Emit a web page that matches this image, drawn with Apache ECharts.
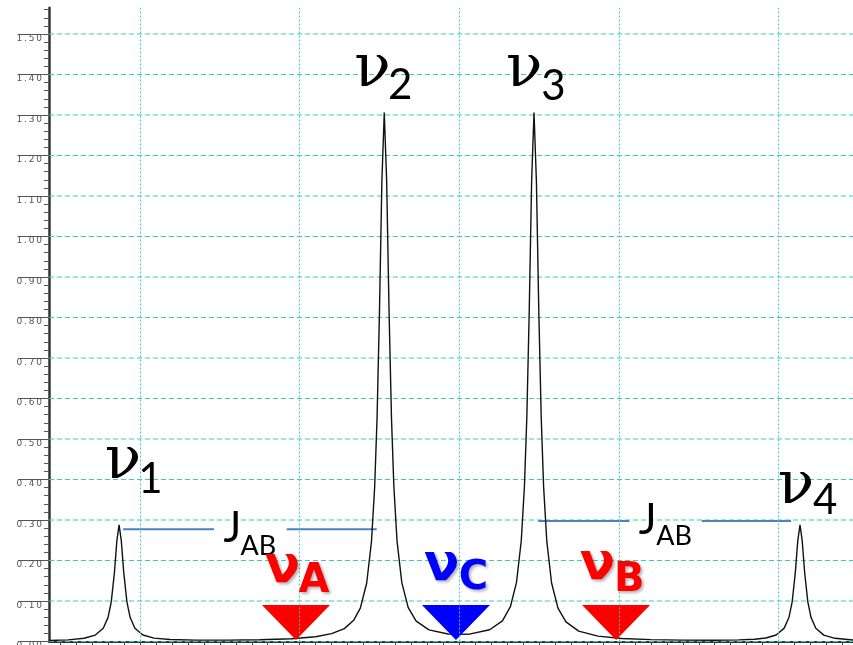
<!DOCTYPE html>
<html><head><meta charset="utf-8">
<script src="https://cdn.jsdelivr.net/npm/echarts@6/dist/echarts.min.js"></script>
<style>html,body{margin:0;padding:0;background:#fff}#c{width:853px;height:645px}</style>
</head><body><div id="c"></div>
<script>
// ---- spectrum ----
const specX = [43,55,65,72,77,80,82,84,85.5,86.9,88.3,89.8,91.8,93.8,96.8,101.8,108.8,118.8,135,155,175,195,210,220,228,234,238,242,245,247,248.5,250,251.5,253,254.5,256,257.5,259,261,264,268,273,281,293,300,307,319,327,332,335.8,338.8,340.8,342.3,343.8,345.3,346.8,348.3,349.8,351.3,352.8,354.8,357.8,361.8,366.8,374.8,386.8,401.8,420,440,460,475,485,492,498.5,503.5,506.5,508.5,510.5,512,513.4,514.8,516.3,518.3,520.3,523.3,528.3,535.3,546.6];
const specY = [0.0025,0.0041,0.0080,0.0159,0.0328,0.0596,0.0979,0.1711,0.2483,0.2879,0.2483,0.1712,0.0980,0.0597,0.0329,0.0161,0.0084,0.0049,0.0033,0.0033,0.0043,0.0069,0.0116,0.0194,0.0318,0.0532,0.0825,0.1444,0.2474,0.3827,0.5538,0.8145,1.1358,1.306,1.1362,0.8149,0.5542,0.3833,0.2480,0.1453,0.0838,0.0502,0.0287,0.0186,0.0175,0.0187,0.0290,0.0511,0.0859,0.1453,0.2481,0.3833,0.5542,0.8149,1.1362,1.306,1.136,0.8148,0.5541,0.3830,0.2477,0.1444,0.0825,0.0483,0.0257,0.0133,0.0075,0.0047,0.0034,0.0032,0.0039,0.0057,0.0087,0.0161,0.0330,0.0598,0.0980,0.1712,0.2484,0.288,0.2483,0.1711,0.0979,0.0596,0.0328,0.0158,0.0079,0.0038];

// ---- axes / grid ----
const yMajor = [0,0.1,0.2,0.3,0.4,0.5,0.6,0.7,0.8,0.9,1.0,1.1,1.2,1.3,1.4,1.5];
const gridYVals = [0,0.1,0.2,0.3,0.4,0.5,0.6,0.7,0.8,0.9,1.0,1.1,1.2,1.3,1.4,1.5];
const gridXVals = [100,200,300,400,500];
const xMin = 43, xMax = 546.6, yMin = 0, yMax = 1.565;

// ---- annotations (data coordinates) ----
const peakSub = ['1','2','3','4'];
const peakNuX = [89.4,245.6,340.7,510.9];
const peakNuY = [0.442,1.409,1.409,0.381];
const peakSubX = [106.6,262.9,358.9,529.1];
const peakSubY = [0.401,1.372,1.370,0.349];

const jX = [157.9,417.9];
const jY = [0.280,0.300];
const abX = [174.1,434.6];
const abY = [0.235,0.259];
const jSegStart = [89.4,191.9,349.5,451.9];
const jSegEnd = [146.4,248.3,406.5,507.8];
const jSegY = [0.277,0.277,0.2975,0.2975];

const shiftSub = ['A','C','B'];
const shiftNuX = [189.3,289.0,386.6];
const shiftNuY = [0.1815,0.1847,0.1869];
const shiftSubX = [209.0,308.8,406.4];
const shiftSubY = [0.1477,0.1543,0.1499];
const markerX = [197.7,297.9,398.2];
const markerY = [0.047,0.047,0.047];

// ---- styles ----
const shiftColors = ['#ff0000','#0000ff','#ff0000'];
const teal = '#3ccfae';

const xTicks = [];
for (let v = 50; v <= 540; v += 10) xTicks.push(v);
const yMinor = [];
for (let i = 0; i <= 78; i++) yMinor.push(+(i*0.02).toFixed(2));

function textSeries(xs, ys, texts, labelStyle, colors){
  return {
    type:'scatter', z:6, symbolSize:1, silent:true,
    itemStyle:{color:'rgba(0,0,0,0)', opacity:1},
    data: xs.map((x,i)=>({value:[x,ys[i]], label: Object.assign({show:true, position:'inside', formatter:texts[i]}, labelStyle, colors?{color:colors[i]}:{})}))
  };
}

const series = [];
// vertical gridlines
series.push({
  type:'line', data:[[xMin,0]], symbol:'none', lineStyle:{opacity:0}, z:1, silent:true,
  markLine:{
    silent:true, symbol:['none','none'], label:{show:false}, animation:false,
    lineStyle:{type:[2,2], color:teal, width:1, opacity:1},
    emphasis:{disabled:true},
    data: gridXVals.map(v=>({xAxis:v}))
  }
});
// horizontal gridlines (one line series each)
gridYVals.forEach(v=>{
  series.push({type:'line', z:1, symbol:'none', silent:true,
    data:[[xMin,v],[xMax,v]],
    lineStyle:{type:[5,3], color:teal, width:1.15, opacity:1}});
});
// J connectors
jSegStart.forEach((s,i)=>{
  series.push({type:'line', z:2, symbol:'none', silent:true,
    data:[[s,jSegY[i]],[jSegEnd[i],jSegY[i]]],
    lineStyle:{color:'#4f7fbd', width:2}});
});
// spectrum
series.push({type:'line', z:3, symbol:'none', showSymbol:false, silent:true,
  data: specX.map((x,i)=>[x,specY[i]]),
  lineStyle:{color:'#111', width:1.4}});
// triangles
series.push({type:'scatter', z:4, symbol:'triangle', symbolRotate:180, symbolSize:[68,35], silent:true,
  data: markerX.map((x,i)=>({value:[x,markerY[i]], itemStyle:{color:shiftColors[i], opacity:1}}))});
// texts
series.push(textSeries(peakNuX, peakNuY, peakNuX.map(()=>'ν'), {fontFamily:'DejaVu Serif', fontSize:60, color:'#000'}));
series.push(textSeries(peakSubX, peakSubY, peakSub, {fontFamily:'Lato', fontSize:42, color:'#000'}));
series.push(textSeries(jX, jY, jX.map(()=>'J'), {fontFamily:'Lato', fontSize:42, color:'#000'}));
series.push(textSeries(abX, abY, abX.map(()=>'AB'), {fontFamily:'Lato', fontSize:27, color:'#000'}));
const shadow = {textShadowColor:'rgba(0,0,0,0.3)', textShadowBlur:3, textShadowOffsetX:2, textShadowOffsetY:2};
series.push(textSeries(shiftNuX, shiftNuY, shiftNuX.map(()=>'ν'), Object.assign({fontFamily:'DejaVu Sans', fontWeight:'bold', fontSize:52}, shadow), shiftColors));
series.push(textSeries(shiftSubX, shiftSubY, shiftSub, Object.assign({fontFamily:'DejaVu Sans', fontWeight:'bold', fontSize:40}, shadow), shiftColors));

const spaced = s => s.split('').join('\u2009');

const chart = echarts.init(document.getElementById('c'), null, {renderer:'canvas'});
chart.setOption({
  animation:false,
  backgroundColor:'#fff',
  grid:{left:49, right:0, top:641.5-yMax*405, bottom:3.5, containLabel:false, outerBoundsMode:'none'},
  xAxis:{type:'value', min:xMin, max:xMax,
    axisLine:{show:true, lineStyle:{color:'#333', width:2}},
    axisTick:{show:true, customValues:xTicks, length:4, lineStyle:{color:'#444'}},
    axisLabel:{show:false}, splitLine:{show:false}},
  yAxis:[
    {type:'value', min:yMin, max:yMax, position:'left',
      axisLine:{show:true, lineStyle:{color:'#333', width:2.5}},
      axisTick:{show:true, customValues:yMajor, length:31, lineStyle:{color:'#555', width:1}},
      axisLabel:{show:true, customValues:yMajor, formatter:v=>spaced(Number(v).toFixed(2)), fontFamily:'DejaVu Sans', fontSize:9, color:'#555', margin:7, verticalAlign:'top'},
      splitLine:{show:false}},
    {type:'value', min:yMin, max:yMax, position:'left',
      axisLine:{show:false},
      axisTick:{show:true, customValues:yMinor, length:5, lineStyle:{color:'#555', width:1}},
      axisLabel:{show:false}, splitLine:{show:false}}
  ],
  series: series
});
</script>
</body></html>
